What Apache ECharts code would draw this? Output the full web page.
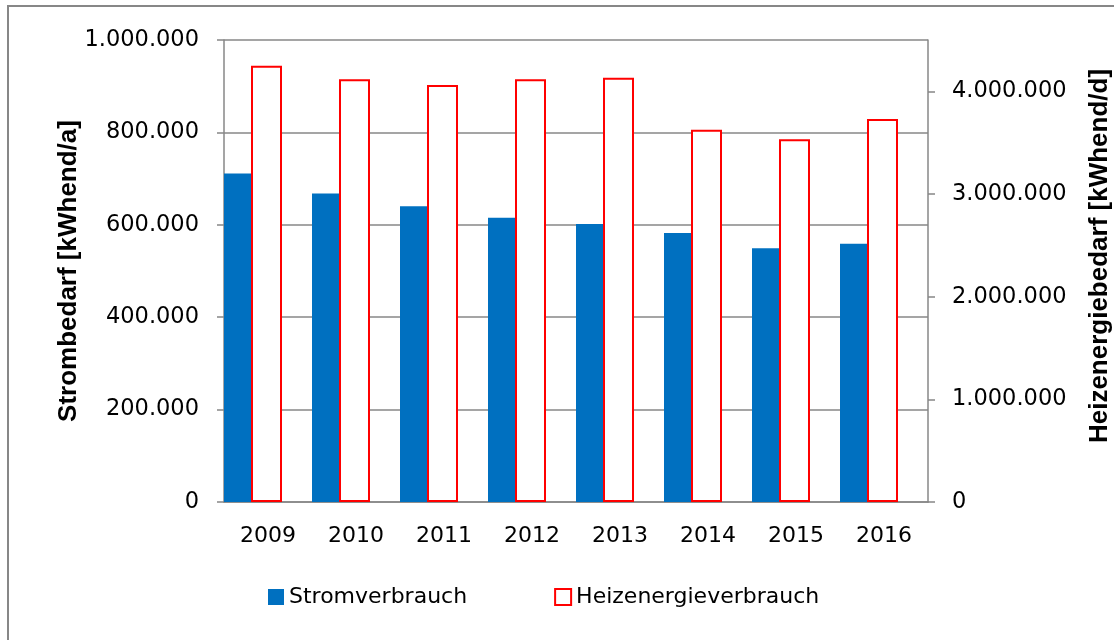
<!DOCTYPE html>
<html>
<head>
<meta charset="utf-8">
<title>Strom- und Heizenergieverbrauch</title>
<script src="https://cdn.jsdelivr.net/npm/echarts@6/dist/echarts.min.js"></script>
<style>
  body { margin: 0; background: #fff; }
  #chart { width: 1114px; height: 640px; }
</style>
</head>
<body>
<div id="chart"></div>
<script>
// values
var years = ["2009", "2010", "2011", "2012", "2013", "2014", "2015", "2016"];
var stromverbrauch = [711000, 668000, 640000, 615000, 602000, 582000, 549000, 559000];
var heizenergieverbrauch = [4250000, 4117000, 4062000, 4117000, 4133000, 3626000, 3533000, 3730000];
var rightTicks = [0, 1000000, 2000000, 3000000, 4000000];

var grey = "#878787";
var labelFont = "DejaVu Sans";
var titleFont = "Liberation Sans";

// german thousands separator: 1.000.000
function fmt(v) {
  return String(v).replace(/\B(?=(\d{3})+(?!\d))/g, ".");
}

var chart = echarts.init(document.getElementById("chart"));
chart.setOption({
  animation: false,
  backgroundColor: "#fff",
  graphic: [
    {
      // outer frame of the original figure
      type: "rect",
      shape: { x: 8, y: 6, width: 1200, height: 700 },
      style: { fill: "none", stroke: grey, lineWidth: 2 },
      silent: true
    }
  ],
  grid: { left: 224, right: 186, top: 40, bottom: 138, outerBoundsMode: "none" },
  legend: {
    data: ["Stromverbrauch", "Heizenergieverbrauch"],
    left: 263,
    top: 581,
    itemGap: 87,
    itemWidth: 16,
    itemHeight: 16,
    icon: "rect",
    textStyle: { fontFamily: labelFont, fontSize: 22, color: "#000" }
  },
  xAxis: {
    type: "category",
    data: years,
    axisLine: { lineStyle: { color: grey, width: 1.5 } },
    axisTick: { length: 8, lineStyle: { color: grey, width: 1.5 } },
    axisLabel: { margin: 23, fontFamily: labelFont, fontSize: 22, color: "#000" }
  },
  yAxis: [
    {
      type: "value",
      min: 0,
      max: 1000000,
      interval: 200000,
      name: "Strombedarf [kWhend/a]",
      nameLocation: "middle",
      nameRotate: 90,
      nameGap: 142,
      nameMoveOverlap: false,
      nameTextStyle: { fontFamily: titleFont, fontWeight: "bold", fontSize: 26, color: "#000" },
      axisLine: { show: true, lineStyle: { color: grey, width: 1.5 } },
      axisTick: { show: true, length: 7, lineStyle: { color: grey, width: 1.5 } },
      axisLabel: { margin: 25, fontFamily: labelFont, fontSize: 22.5, color: "#000", formatter: fmt },
      splitLine: { lineStyle: { color: grey, width: 1.5 } }
    },
    {
      type: "value",
      min: 0,
      max: 4500000,
      interval: 1000000,
      position: "right",
      name: "Heizenergiebedarf [kWhend/d]",
      nameLocation: "middle",
      nameRotate: 90,
      nameGap: 159,
      nameMoveOverlap: false,
      nameTextStyle: {
        fontFamily: titleFont, fontWeight: "bold", fontSize: 26, color: "#000",
        padding: [0, 0, 0, 30]
      },
      axisLine: { show: true, lineStyle: { color: grey, width: 1.5 } },
      axisTick: { show: true, length: 7, lineStyle: { color: grey, width: 1.5 }, customValues: rightTicks },
      axisLabel: { margin: 24, fontFamily: labelFont, fontSize: 22.5, color: "#000", formatter: fmt, customValues: rightTicks },
      splitLine: { show: false }
    }
  ],
  series: [
    {
      name: "Stromverbrauch",
      type: "bar",
      yAxisIndex: 0,
      data: stromverbrauch,
      barWidth: 27,
      barGap: "0%",
      itemStyle: { color: "#0070C0" }
    },
    {
      name: "Heizenergieverbrauch",
      type: "bar",
      yAxisIndex: 1,
      data: heizenergieverbrauch,
      barWidth: 31,
      barGap: "0%",
      itemStyle: { color: "#fff", borderColor: "#FF0000", borderWidth: 2 }
    },
    {
      // empty slot so the pair sits at the left of each category like in excel
      name: "",
      type: "bar",
      yAxisIndex: 0,
      data: [],
      barWidth: 30,
      barGap: "0%",
      silent: true
    }
  ]
});
</script>
</body>
</html>
